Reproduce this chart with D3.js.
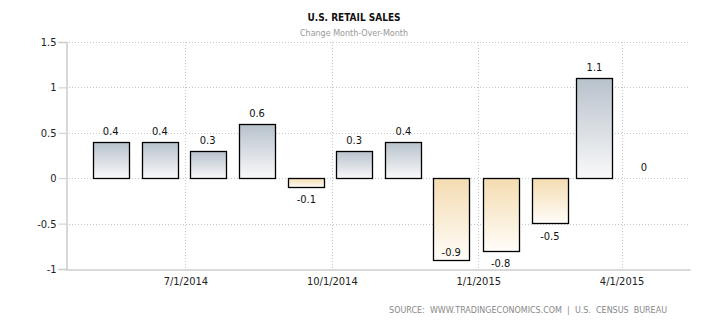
<!DOCTYPE html>
<html><head><meta charset="utf-8">
<script src="https://cdn.jsdelivr.net/npm/d3@7"></script>
<style>body{margin:0;background:#fff}svg{display:block}</style>
</head><body><svg id="c" width="710" height="325"></svg>
<script>
const months = ["2014-05-15","2014-06-15","2014-07-15","2014-08-15","2014-09-15","2014-10-15","2014-11-15","2014-12-15","2015-01-15","2015-02-15","2015-03-15","2015-04-15"];
const values = [0.4,0.4,0.3,0.6,-0.1,0.3,0.4,-0.9,-0.8,-0.5,1.1,0];
const yTicks = [-1,-0.5,0,0.5,1,1.5];
const xTickDates = ["2014-07-01","2014-10-01","2015-01-01","2015-04-01"];
const xTickLabels = ["7/1/2014","10/1/2014","1/1/2015","4/1/2015"];
const title = "U.S. RETAIL SALES";
const subtitle = "Change Month-Over-Month";
const source = "SOURCE:  WWW.TRADINGECONOMICS.COM  |  U.S.  CENSUS  BUREAU";

const parse = d3.utcParse("%Y-%m-%d");
const L=66,R=690,T=42,B=269;
const svg = d3.select("#c");
const font = "'DejaVu Sans Condensed', 'DejaVu Sans', sans-serif";
const wide = "'DejaVu Sans', Verdana, sans-serif";
const x = d3.scaleUtc().domain([parse("2014-04-17"), parse("2015-05-14")]).range([L,R]);
const y = d3.scaleLinear().domain([-1,1.5]).range([B,T]);

const defs = svg.append("defs");
const gp = defs.append("linearGradient").attr("id","gp").attr("x1",0).attr("y1",0).attr("x2",0).attr("y2",1);
gp.append("stop").attr("offset","0%").attr("stop-color","#b8c2cc");
gp.append("stop").attr("offset","100%").attr("stop-color","#f9f9fa");
const gn = defs.append("linearGradient").attr("id","gn").attr("x1",0).attr("y1",0).attr("x2",0).attr("y2",1);
gn.append("stop").attr("offset","0%").attr("stop-color","#f4dcb1");
gn.append("stop").attr("offset","100%").attr("stop-color","#fffdf9");

// gridlines
svg.append("g").selectAll("line").data(yTicks.filter(v=>v>-1)).join("line")
  .attr("x1",L).attr("x2",R).attr("y1",d=>Math.round(y(d))+0.5).attr("y2",d=>Math.round(y(d))+0.5)
  .attr("stroke","#c8c8c8").attr("stroke-dasharray","1,2");
svg.append("g").selectAll("line").data(xTickDates).join("line")
  .attr("x1",d=>Math.round(x(parse(d)))+0.5).attr("x2",d=>Math.round(x(parse(d)))+0.5)
  .attr("y1",T).attr("y2",B)
  .attr("stroke","#c8c8c8").attr("stroke-dasharray","1,2");

// axes
const yAxis = svg.append("g").attr("transform",`translate(${L+0.5},0)`)
  .call(d3.axisLeft(y).tickValues(yTicks).tickSize(8).tickPadding(2).tickFormat(d=>String(d)));
yAxis.select(".domain").attr("stroke","#cccccc").attr("stroke-width",1.5);
yAxis.selectAll(".tick line").attr("stroke","#cccccc");
yAxis.selectAll("text").attr("font-family",font).attr("font-size",11).attr("fill","#222");

const xAxis = svg.append("g").attr("transform",`translate(0,${B+0.5})`)
  .call(d3.axisBottom(x).tickValues(xTickDates.map(parse)).tickSize(0).tickPadding(8)
    .tickFormat((d,i)=>xTickLabels[i]));
xAxis.select(".domain").attr("stroke","#cccccc").attr("stroke-width",1.5);
xAxis.selectAll("text").attr("font-family",font).attr("font-size",11).attr("fill","#222");

// bars
const bw = 36;
const data = months.map((m,i)=>({d:parse(m),v:values[i]}));
svg.append("g").selectAll("rect").data(data.filter(d=>d.v!==0)).join("rect")
  .attr("x",d=>Math.round(x(d.d)-bw/2)+0.5)
  .attr("y",d=>Math.round(y(Math.max(0,d.v)))+0.5)
  .attr("width",bw)
  .attr("height",d=>Math.round(Math.abs(y(d.v)-y(0))))
  .attr("fill",d=>d.v>=0?"url(#gp)":"url(#gn)")
  .attr("stroke","#000").attr("stroke-width",1.3);

// labels
svg.append("g").selectAll("text").data(data).join("text")
  .attr("x",d=>x(d.d))
  .attr("y",d=>{
    if(d.v>=0) return y(d.v)-7;
    let yy = y(d.v)+16;
    if(yy>B-2) yy = y(d.v)-4;
    return yy;
  })
  .attr("text-anchor","middle").attr("font-family",font).attr("font-size",11).attr("fill","#111")
  .text(d=>String(d.v));

// titles
svg.append("text").attr("x",354).attr("y",21).attr("text-anchor","middle")
  .attr("font-family",font).attr("font-size",10).attr("font-weight","bold").attr("fill","#111").text(title);
svg.append("text").attr("x",354).attr("y",36).attr("text-anchor","middle")
  .attr("font-family",wide).attr("font-size",8).attr("fill","#999").text(subtitle);
svg.append("text").attr("x",667).attr("y",313).attr("text-anchor","end")
  .style("white-space","pre")
  .attr("font-family",wide).attr("font-size",8).attr("fill","#888").text(source);
</script></body></html>
